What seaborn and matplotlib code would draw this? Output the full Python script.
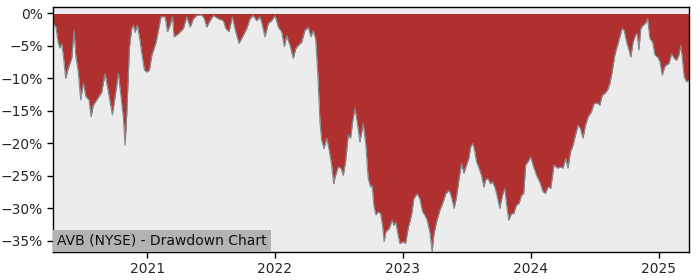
import numpy as np
import pandas as pd
import matplotlib
matplotlib.use("Agg")
import matplotlib.pyplot as plt
import seaborn as sns
from matplotlib.ticker import PercentFormatter
import matplotlib.dates as mdates

# decimal-year time stamps
years = [
    2020.266, 2020.273, 2020.289, 2020.307, 2020.320, 2020.334, 2020.346, 2020.365, 2020.385, 2020.412,
    2020.430, 2020.443, 2020.463, 2020.482, 2020.502, 2020.523, 2020.547, 2020.563, 2020.580, 2020.607,
    2020.646, 2020.672, 2020.698, 2020.729, 2020.750, 2020.776, 2020.797, 2020.815, 2020.828, 2020.841,
    2020.862, 2020.880, 2020.893, 2020.906, 2020.924, 2020.940, 2020.959, 2020.979, 2020.998, 2021.018,
    2021.037, 2021.070, 2021.088, 2021.109, 2021.141, 2021.159, 2021.180, 2021.198, 2021.211, 2021.245,
    2021.284, 2021.310, 2021.336, 2021.362, 2021.388, 2021.427, 2021.448, 2021.466, 2021.492, 2021.518,
    2021.557, 2021.596, 2021.615, 2021.641, 2021.666, 2021.693, 2021.719, 2021.745, 2021.779, 2021.805,
    2021.830, 2021.857, 2021.883, 2021.901, 2021.922, 2021.948, 2021.974, 2022.000, 2022.026, 2022.052,
    2022.073, 2022.091, 2022.117, 2022.143, 2022.162, 2022.182, 2022.209, 2022.234, 2022.260, 2022.281,
    2022.299, 2022.318, 2022.334, 2022.352, 2022.365, 2022.383, 2022.404, 2022.422, 2022.443, 2022.459,
    2022.474, 2022.495, 2022.516, 2022.534, 2022.552, 2022.573, 2022.591, 2022.607, 2022.625, 2022.643,
    2022.664, 2022.690, 2022.711, 2022.729, 2022.748, 2022.760, 2022.773, 2022.789, 2022.807, 2022.826,
    2022.841, 2022.854, 2022.867, 2022.893, 2022.916, 2022.930, 2022.945, 2022.963, 2022.977, 2023.002,
    2023.021, 2023.041, 2023.068, 2023.086, 2023.112, 2023.133, 2023.154, 2023.172, 2023.190, 2023.211,
    2023.229, 2023.242, 2023.263, 2023.289, 2023.315, 2023.336, 2023.362, 2023.380, 2023.401, 2023.420,
    2023.440, 2023.459, 2023.477, 2023.498, 2023.516, 2023.531, 2023.549, 2023.563, 2023.576, 2023.596,
    2023.615, 2023.633, 2023.648, 2023.666, 2023.685, 2023.701, 2023.719, 2023.737, 2023.758, 2023.779,
    2023.797, 2023.810, 2023.828, 2023.849, 2023.867, 2023.888, 2023.909, 2023.927, 2023.945, 2023.961,
    2023.979, 2024.000, 2024.018, 2024.045, 2024.070, 2024.096, 2024.115, 2024.135, 2024.156, 2024.182,
    2024.209, 2024.234, 2024.252, 2024.273, 2024.291, 2024.310, 2024.330, 2024.349, 2024.370, 2024.388,
    2024.408, 2024.427, 2024.448, 2024.474, 2024.495, 2024.521, 2024.539, 2024.557, 2024.578, 2024.599,
    2024.617, 2024.635, 2024.656, 2024.677, 2024.695, 2024.713, 2024.729, 2024.748, 2024.766, 2024.781,
    2024.799, 2024.818, 2024.830, 2024.844, 2024.859, 2024.877, 2024.896, 2024.912, 2024.930, 2024.951,
    2024.969, 2024.990, 2025.008, 2025.026, 2025.045, 2025.060, 2025.078, 2025.099, 2025.120, 2025.138,
    2025.156, 2025.172, 2025.185, 2025.198, 2025.216, 2025.234,
]

# drawdown in percent
drawdown = [
    -1.5, -1.6, -2.1, -4.6, -5.3, -4.7, -6.4, -10.0, -8.4, -6.9,
    -2.6, -6.4, -9.0, -13.3, -10.7, -12.8, -13.3, -15.9, -14.1, -13.3,
    -12.1, -9.2, -12.1, -15.6, -12.8, -9.2, -13.0, -16.1, -20.3, -15.6,
    -5.3, -2.3, -1.8, -2.9, -1.8, -3.6, -6.2, -8.7, -9.0, -8.7,
    -6.4, -4.4, -2.6, -0.5, -0.5, -2.8, -1.8, -0.5, -3.6, -3.1,
    -2.3, -0.5, -2.1, -0.8, -0.3, -0.2, -0.8, -2.1, -1.1, -0.3,
    -0.8, -1.1, -2.3, -2.8, -0.5, -2.8, -4.6, -3.6, -2.3, -0.8,
    -0.3, -1.1, -0.5, -1.8, -3.6, -1.5, -1.1, -0.3, -2.1, -2.8,
    -5.1, -3.4, -4.9, -6.9, -5.4, -4.9, -4.4, -2.6, -2.1, -3.6,
    -2.6, -3.9, -9.0, -16.7, -19.5, -20.8, -19.2, -20.8, -23.3, -26.2,
    -24.9, -23.6, -23.8, -24.9, -22.8, -18.7, -19.2, -16.7, -14.6, -16.7,
    -19.8, -16.9, -20.3, -25.4, -26.7, -26.5, -29.5, -31.0, -30.5, -30.8,
    -32.6, -35.1, -33.6, -33.1, -31.8, -32.6, -32.1, -34.1, -35.4, -35.1,
    -35.4, -33.1, -31.0, -28.5, -27.7, -28.5, -30.5, -31.0, -31.8, -33.6,
    -36.7, -34.1, -32.1, -30.3, -29.0, -27.7, -27.2, -28.2, -30.0, -28.2,
    -25.4, -23.1, -24.6, -23.3, -22.3, -20.5, -20.0, -21.3, -22.8, -23.8,
    -24.9, -26.7, -25.6, -25.4, -26.2, -25.9, -26.7, -28.0, -30.0, -28.0,
    -26.9, -29.2, -31.8, -30.8, -30.8, -29.5, -29.2, -28.0, -27.7, -23.3,
    -22.8, -22.1, -23.3, -24.9, -25.9, -27.4, -27.7, -26.7, -26.9, -23.3,
    -23.8, -23.6, -23.8, -22.3, -23.8, -21.3, -20.3, -18.7, -17.2, -17.7,
    -19.2, -17.2, -15.9, -15.1, -13.8, -13.8, -14.1, -12.6, -12.3, -11.8,
    -10.8, -9.0, -6.4, -4.9, -3.6, -2.3, -2.6, -4.4, -5.6, -6.7,
    -4.4, -3.3, -3.1, -5.6, -2.3, -1.8, -1.5, -0.8, -3.9, -4.4,
    -6.4, -6.7, -7.4, -9.5, -8.2, -7.9, -7.7, -6.2, -6.9, -7.2,
    -6.4, -4.9, -7.4, -9.8, -10.5, -10.3,
]

title_text = "AVB (NYSE) - Drawdown Chart"

def to_date(y):
    yr = int(np.floor(y))
    start = pd.Timestamp(year=yr, month=1, day=1)
    end = pd.Timestamp(year=yr + 1, month=1, day=1)
    return start + (end - start) * (y - yr)

df = pd.DataFrame({
    "date": [to_date(y) for y in years],
    "dd": np.array(drawdown) / 100.0,
})

sns.set_style("white")
fig, ax = plt.subplots(figsize=(7, 2.8), dpi=100)
fig.subplots_adjust(left=0.0757, right=0.984, top=0.975, bottom=0.1)
ax.set_facecolor("#ececec")

ax.fill_between(df["date"], df["dd"], 0, color="#b03030", linewidth=0)
sns.lineplot(data=df, x="date", y="dd", ax=ax, color="#7f8c8d", linewidth=0.8)

ax.set_xlim(df["date"].iloc[0], df["date"].iloc[-1])
ax.set_ylim(df["dd"].min(), 0.01)
ax.yaxis.set_major_formatter(PercentFormatter(1.0, decimals=0))
ax.xaxis.set_major_locator(mdates.YearLocator())
ax.xaxis.set_major_formatter(mdates.DateFormatter("%Y"))
ax.set_xlabel("")
ax.set_ylabel("")
ax.tick_params(axis="both", which="major", labelsize=10, length=4, width=1,
               left=True, bottom=True, color="black")
for s in ax.spines.values():
    s.set_color("black")
    s.set_linewidth(1)

ax.annotate(title_text, xy=(0, 0), xycoords="axes fraction",
            xytext=(3, 3), textcoords="offset points",
            ha="left", va="bottom", fontsize=10, color="#111111",
            bbox=dict(facecolor="#b3b3b3", edgecolor="none", pad=3))

fig.savefig("out.png", dpi=100)
